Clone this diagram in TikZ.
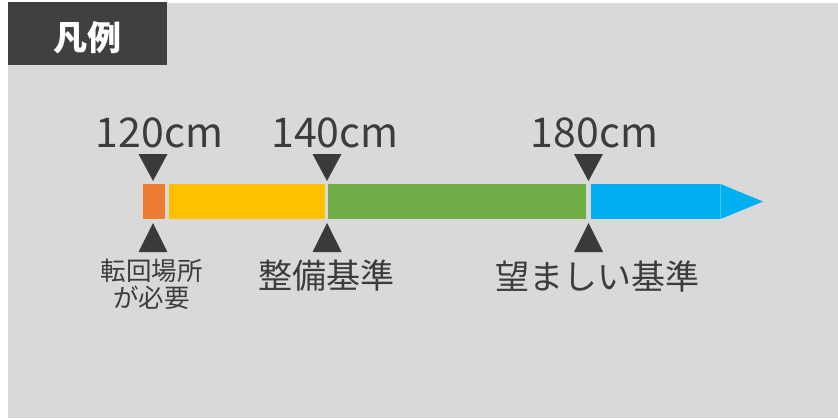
\documentclass[tikz,border=0pt]{standalone}
\usepackage{fontspec}
\setmainfont{Noto Sans CJK JP}
\definecolor{bgc}{HTML}{D9D9D9}
\definecolor{hdr}{HTML}{404040}
\definecolor{txt}{HTML}{3C3C3C}
\definecolor{mk}{HTML}{3A3A3A}
\definecolor{c1}{HTML}{ED7D31}
\definecolor{c2}{HTML}{FFC000}
\definecolor{c3}{HTML}{70AD47}
\definecolor{c4}{HTML}{00B0F0}
\definecolor{c4l}{HTML}{40C4F4}
\begin{document}
\begin{tikzpicture}[x=1pt,y=-1pt,
  cmlab/.style={text=txt,inner sep=0pt,anchor=base,font=\fontsize{41}{41}\selectfont},
  lab/.style={text=txt,inner sep=0pt,font=\fontsize{34}{34}\selectfont},
  small/.style={text=txt,inner sep=0pt,font=\fontsize{25.5}{25.5}\selectfont}]
\useasboundingbox (0,0) rectangle (838,418);
\fill[white] (0,0) rectangle (838,418);
\fill[bgc] (8,3) rectangle (838,418);
\fill[hdr] (8,2) rectangle (167,65);
\node[text=white,inner sep=0pt,font=\bfseries\fontsize{34}{34}\selectfont] (title) at (87,38) {凡例};
% bar
\fill[c1] (143,184) rectangle (165,219);
\fill[c2] (169,184) rectangle (325,219);
\fill[c3] (328,184) rectangle (586,219);
\fill[c4] (591,184) rectangle (720.5,219);
\fill[c4] (720.5,184) -- (763,201.5) -- (720.5,219) -- cycle;
\draw[c4l,line width=0.8pt] (720.5,184) -- (720.5,219);
% markers
\foreach \c in {153,327,588.5}{
  \fill[mk] (\c-14.5,154) -- (\c+14.5,154) -- (\c,181) -- cycle;
  \fill[mk] (\c,223) -- (\c+14.5,252) -- (\c-14.5,252) -- cycle;
}
\node[cmlab] (l120) at (159.5,147) {120cm};
\node[cmlab] (l140) at (335,147) {140cm};
\node[cmlab] (l180) at (594.5,147) {180cm};
\node[small] (t1) at (151.5,271) {転回場所};
\node[small] (t2) at (151.5,298) {が必要};
\node[lab] (t3) at (326.5,276) {整備基準};
\node[lab] (t4) at (597.5,277) {望ましい基準};
\end{tikzpicture}
\end{document}
